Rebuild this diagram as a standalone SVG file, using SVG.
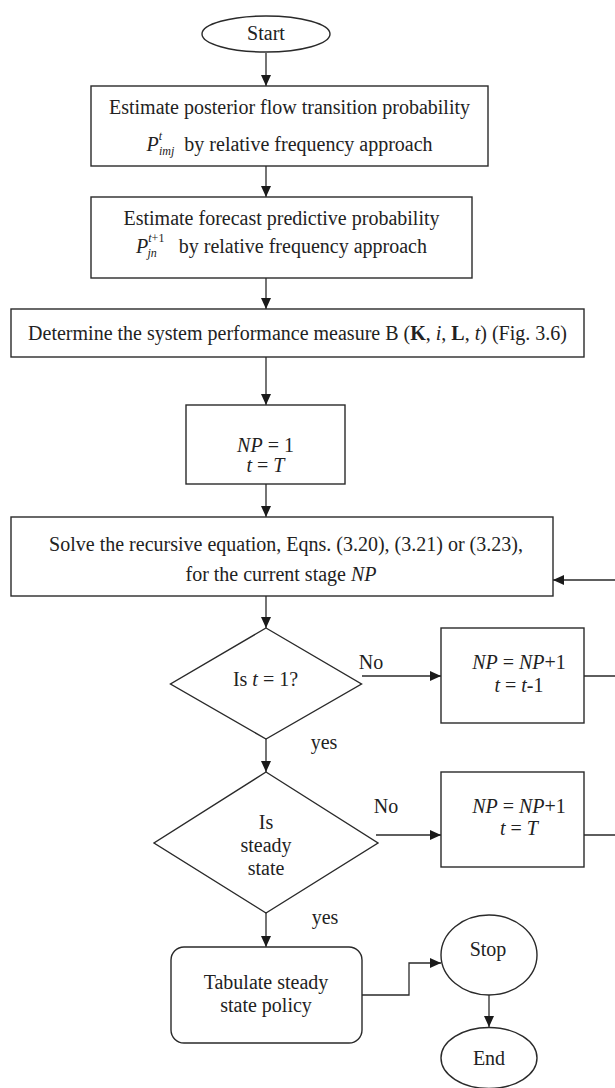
<svg xmlns="http://www.w3.org/2000/svg" width="615" height="1088" viewBox="0 0 615 1088">
<style>
  .shape { fill: #ffffff; stroke: #2a2a2a; stroke-width: 1.4; }
  .conn { fill: none; stroke: #2a2a2a; stroke-width: 1.3; }
  text { font-family: "Liberation Serif", "Times New Roman", serif; font-size: 20px; fill: #222222; }
  .it { font-style: italic; }
  .b { font-weight: bold; }
  .sm { font-size: 12px; font-style: italic; }
</style>
<defs>
  <marker id="arrow" markerUnits="userSpaceOnUse" markerWidth="11" markerHeight="10" refX="11" refY="5" orient="auto">
    <path d="M0,0 L11,5 L0,10 z" fill="#1a1a1a"/>
  </marker>
</defs>
<rect width="615" height="1088" fill="#ffffff"/>

<g id="connectors">
  <path class="conn" d="M266,53 V86" marker-end="url(#arrow)"/>
  <path class="conn" d="M266,166 V197" marker-end="url(#arrow)"/>
  <path class="conn" d="M266,278 V309" marker-end="url(#arrow)"/>
  <path class="conn" d="M266,357 V405" marker-end="url(#arrow)"/>
  <path class="conn" d="M266,484 V517" marker-end="url(#arrow)"/>
  <path class="conn" d="M266,596 V628" marker-end="url(#arrow)"/>
  <path class="conn" d="M362,676 H441" marker-end="url(#arrow)"/>
  <path class="conn" d="M584,676 H625 V580 H553" marker-end="url(#arrow)"/>
  <path class="conn" d="M266,739 V772" marker-end="url(#arrow)"/>
  <path class="conn" d="M376,835 H441" marker-end="url(#arrow)"/>
  <path class="conn" d="M584,835 H625 V676"/>
  <path class="conn" d="M266,913 V947" marker-end="url(#arrow)"/>
  <path class="conn" d="M362,995 H409 V963 H441" marker-end="url(#arrow)"/>
  <path class="conn" d="M489,995 V1027" marker-end="url(#arrow)"/>
  <text x="371" y="669" text-anchor="middle">No</text>
  <text x="324" y="749" text-anchor="middle">yes</text>
  <text x="386" y="813" text-anchor="middle">No</text>
  <text x="325" y="924" text-anchor="middle">yes</text>
</g>

<g id="start">
  <ellipse class="shape" cx="266" cy="34" rx="64" ry="18"/>
  <text x="266" y="40" text-anchor="middle">Start</text>
</g>

<g id="estimate-posterior">
  <rect class="shape" x="91" y="86" width="397" height="80"/>
  <text x="289.5" y="114" text-anchor="middle">Estimate posterior flow transition probability</text>
  <text x="289.5" y="151" text-anchor="middle"><tspan class="it">P</tspan><tspan class="sm" dy="-11">t</tspan><tspan class="sm" dx="-3" dy="15">imj</tspan><tspan dx="10" dy="-4">by relative frequency approach</tspan></text>
</g>

<g id="estimate-forecast">
  <rect class="shape" x="91" y="197" width="381" height="81"/>
  <text x="281.5" y="225" text-anchor="middle">Estimate forecast predictive probability</text>
  <text x="281.5" y="253" text-anchor="middle"><tspan class="it">P</tspan><tspan class="sm" dy="-11">t</tspan><tspan class="sm" style="font-style:normal">+1</tspan><tspan class="sm" dx="-17" dy="15">jn</tspan><tspan dx="22" dy="-4">by relative frequency approach</tspan></text>
</g>

<g id="determine">
  <rect class="shape" x="11" y="309" width="573" height="48"/>
  <text x="297.5" y="340" text-anchor="middle">Determine the system performance measure B (<tspan class="b">K</tspan>, <tspan class="it">i</tspan>, <tspan class="b">L</tspan>, <tspan class="it">t</tspan>) (Fig. 3.6)</text>
</g>

<g id="init">
  <rect class="shape" x="186" y="405" width="159" height="79"/>
  <text x="265.5" y="452" text-anchor="middle"><tspan class="it">NP</tspan> = 1</text>
  <text x="265.5" y="472" text-anchor="middle"><tspan class="it">t</tspan> = <tspan class="it">T</tspan></text>
</g>

<g id="solve">
  <rect class="shape" x="11" y="517" width="542" height="79"/>
  <text x="286" y="551" text-anchor="middle">Solve the recursive equation, Eqns. (3.20), (3.21) or (3.23),</text>
  <text x="281" y="581" text-anchor="middle">for the current stage <tspan class="it">NP</tspan></text>
</g>

<g id="decision-t1">
  <polygon class="shape" points="266,628 361.5,684 266,739 170.5,684"/>
  <text x="265.5" y="686" text-anchor="middle">Is <tspan class="it">t</tspan> = 1?</text>
</g>

<g id="update-t-minus">
  <rect class="shape" x="441" y="628" width="143" height="95"/>
  <text x="519" y="669" text-anchor="middle"><tspan class="it">NP</tspan> = <tspan class="it">NP</tspan>+1</text>
  <text x="519" y="692" text-anchor="middle"><tspan class="it">t</tspan> = <tspan class="it">t</tspan>-1</text>
</g>

<g id="decision-steady">
  <polygon class="shape" points="266,772 378,843 266,913 154,843"/>
  <text x="266" y="829" text-anchor="middle">Is</text>
  <text x="266" y="852" text-anchor="middle">steady</text>
  <text x="266" y="875" text-anchor="middle">state</text>
</g>

<g id="update-t-reset">
  <rect class="shape" x="441" y="772" width="143" height="95"/>
  <text x="519" y="813" text-anchor="middle"><tspan class="it">NP</tspan> = <tspan class="it">NP</tspan>+1</text>
  <text x="519" y="835" text-anchor="middle"><tspan class="it">t</tspan> = <tspan class="it">T</tspan></text>
</g>

<g id="tabulate">
  <rect class="shape" x="171" y="947" width="191" height="96" rx="13" ry="13"/>
  <text x="266" y="989" text-anchor="middle">Tabulate steady</text>
  <text x="266" y="1012" text-anchor="middle">state policy</text>
</g>

<g id="stop">
  <ellipse class="shape" cx="489" cy="955" rx="48" ry="40"/>
  <text x="488" y="956" text-anchor="middle">Stop</text>
</g>

<g id="end">
  <ellipse class="shape" cx="489" cy="1058" rx="48" ry="30.5"/>
  <text x="489" y="1065" text-anchor="middle">End</text>
</g>
</svg>
